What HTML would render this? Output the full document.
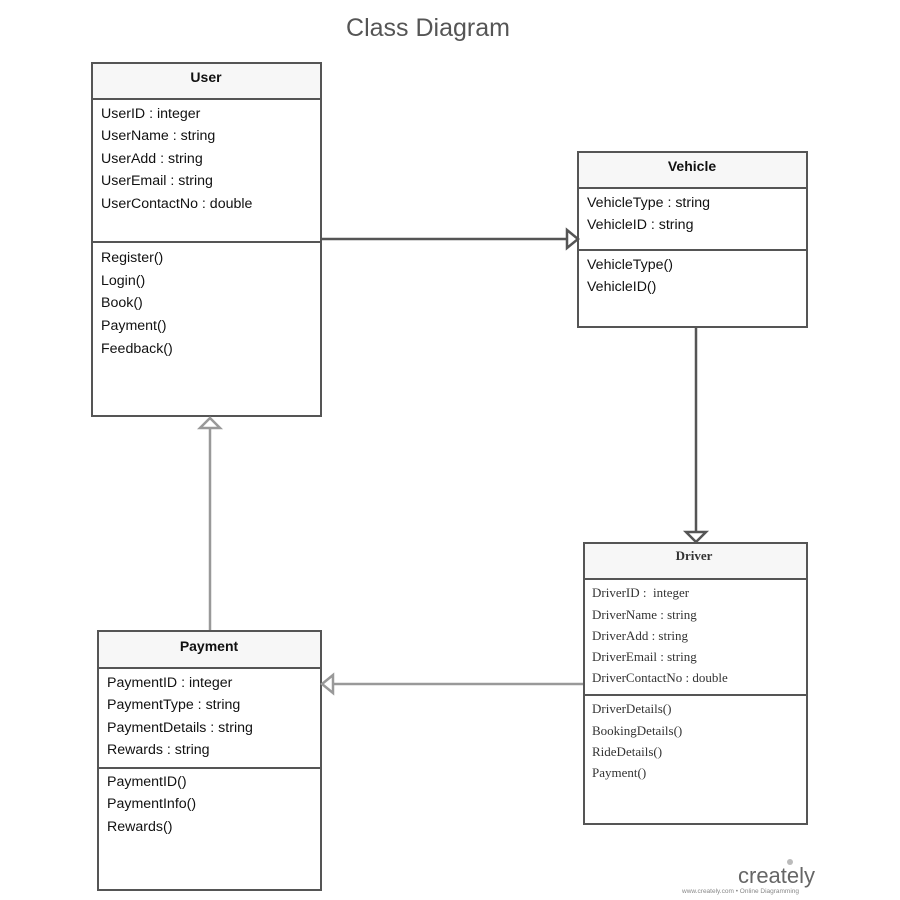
<!DOCTYPE html>
<html><head><meta charset="utf-8"><style>
html,body{margin:0;padding:0;background:#fff;}
svg{display:block}
.s{font-family:"Liberation Sans",sans-serif;font-size:14.2px;fill:#111}
.b{font-family:"Liberation Sans",sans-serif;font-size:14px;font-weight:bold;fill:#111}
.r{font-family:"Liberation Serif",serif;font-size:13px;fill:#333}
.rb{font-family:"Liberation Serif",serif;font-size:13px;font-weight:bold;fill:#333}
</style></head><body>
<svg width="900" height="900" viewBox="0 0 900 900">
<text x="428" y="36" text-anchor="middle" font-family="Liberation Sans,sans-serif" font-size="25" fill="#555">Class Diagram</text>
<g fill="#fff" stroke="#555" stroke-width="2">
<rect x="92" y="63" width="229" height="353"/>
<rect x="92" y="63" width="229" height="36" fill="#f7f7f7"/>
<line x1="92" y1="242" x2="321" y2="242"/>
<rect x="578" y="152" width="229" height="175"/>
<rect x="578" y="152" width="229" height="36" fill="#f7f7f7"/>
<line x1="578" y1="250" x2="807" y2="250"/>
<rect x="584" y="543" width="223" height="281"/>
<rect x="584" y="543" width="223" height="36" fill="#f7f7f7"/>
<line x1="584" y1="695" x2="807" y2="695"/>
<rect x="98" y="631" width="223" height="259"/>
<rect x="98" y="631" width="223" height="37" fill="#f7f7f7"/>
<line x1="98" y1="768" x2="321" y2="768"/>
</g>
<g fill="none" stroke="#555" stroke-width="2.5">
<line x1="322" y1="239" x2="567" y2="239"/>
<polygon points="567,230 578,239 567,248" fill="#fff"/>
<line x1="696" y1="328" x2="696" y2="532"/>
<polygon points="686,532 706,532 696,542" fill="#fff"/>
</g>
<g fill="none" stroke="#999" stroke-width="2.5">
<line x1="210" y1="630" x2="210" y2="428"/>
<polygon points="200,428 220,428 210,418" fill="#fff"/>
<line x1="583" y1="684" x2="333" y2="684"/>
<polygon points="333,675 333,693 322,684" fill="#fff"/>
</g>
<text class="b" x="206" y="82" text-anchor="middle">User</text>
<text class="s" x="101" y="118">UserID : integer</text>
<text class="s" x="101" y="140">UserName : string</text>
<text class="s" x="101" y="163">UserAdd : string</text>
<text class="s" x="101" y="185">UserEmail : string</text>
<text class="s" x="101" y="208">UserContactNo : double</text>
<text class="s" x="101" y="262">Register()</text>
<text class="s" x="101" y="285">Login()</text>
<text class="s" x="101" y="307">Book()</text>
<text class="s" x="101" y="330">Payment()</text>
<text class="s" x="101" y="353">Feedback()</text>
<text class="b" x="692" y="171" text-anchor="middle">Vehicle</text>
<text class="s" x="587" y="207">VehicleType : string</text>
<text class="s" x="587" y="229">VehicleID : string</text>
<text class="s" x="587" y="269">VehicleType()</text>
<text class="s" x="587" y="291">VehicleID()</text>
<text class="rb" x="694" y="560" text-anchor="middle">Driver</text>
<text class="r" x="592" y="597">DriverID : &#160;integer</text>
<text class="r" x="592" y="619">DriverName : string</text>
<text class="r" x="592" y="640">DriverAdd : string</text>
<text class="r" x="592" y="661">DriverEmail : string</text>
<text class="r" x="592" y="682">DriverContactNo : double</text>
<text class="r" x="592" y="713">DriverDetails()</text>
<text class="r" x="592" y="735">BookingDetails()</text>
<text class="r" x="592" y="756">RideDetails()</text>
<text class="r" x="592" y="777">Payment()</text>
<text class="b" x="209" y="651" text-anchor="middle">Payment</text>
<text class="s" x="107" y="687">PaymentID : integer</text>
<text class="s" x="107" y="709">PaymentType : string</text>
<text class="s" x="107" y="732">PaymentDetails : string</text>
<text class="s" x="107" y="754">Rewards : string</text>
<text class="s" x="107" y="786">PaymentID()</text>
<text class="s" x="107" y="808">PaymentInfo()</text>
<text class="s" x="107" y="831">Rewards()</text>
<text x="738" y="883" font-family="Liberation Sans,sans-serif" font-size="22" fill="#666">creately</text>
<circle cx="790" cy="862" r="3" fill="#bbb"/>
<text x="682" y="893" font-family="Liberation Sans,sans-serif" font-size="6.5" fill="#888">www.creately.com • Online Diagramming</text>
</svg>
</body></html>
